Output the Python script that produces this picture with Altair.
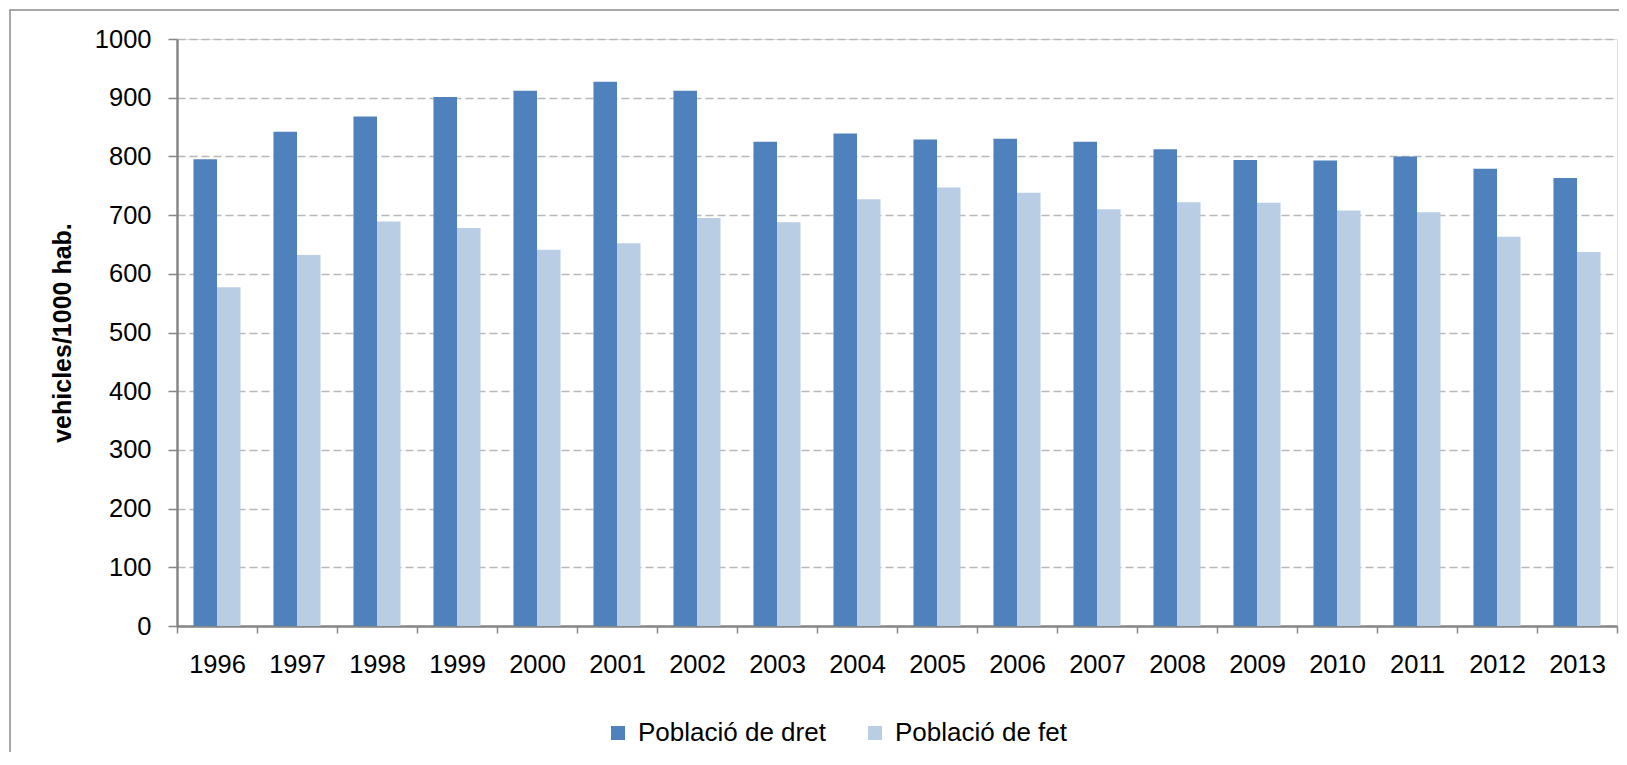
import altair as alt
import pandas as pd

years = [str(y) for y in range(1996, 2014)]
dret = [795, 842, 868, 901, 912, 927, 912, 825, 839, 829, 830, 825, 812, 794, 793, 800, 779, 763]
fet = [577, 632, 689, 678, 641, 652, 695, 688, 727, 747, 738, 710, 722, 721, 708, 705, 663, 637]
series = ["Població de dret", "Població de fet"]
colors = ["#4F81BD", "#B9CDE5"]
y_ticks = list(range(0, 1001, 100))

rows = []
for i, yr in enumerate(years):
    rows.append({"year": yr, "serie": series[0], "value": dret[i]})
    rows.append({"year": yr, "serie": series[1], "value": fet[i]})
df = pd.DataFrame(rows)

W, H = 1440, 587
FONT = "Liberation Sans"

bars = alt.Chart(df).mark_bar().encode(
    x=alt.X("year:N", sort=years,
            scale=alt.Scale(paddingInner=0, paddingOuter=0),
            axis=alt.Axis(title=None, labelAngle=0, labelFontSize=25.5, labelColor="#000000",
                          labelFont=FONT, labelPadding=19,
                          tickBand="extent", tickSize=7, tickColor="#868686", tickWidth=1.5,
                          domainColor="#868686", domainWidth=2.5, grid=False)),
    xOffset=alt.XOffset("serie:N", sort=series,
                        scale=alt.Scale(paddingOuter=0.7, paddingInner=0)),
    y=alt.Y("value:Q",
            scale=alt.Scale(domain=[0, 1000], nice=False),
            axis=alt.Axis(title="vehicles/1000 hab.", values=y_ticks, format="d",
                          titleFont=FONT, titleFontSize=25, titleFontWeight="bold",
                          titleColor="#000000", titleX=-115, titleY=H / 2,
                          titleAngle=270, titleBaseline="middle", titleAlign="center",
                          labelFontSize=25.5, labelFont=FONT, labelColor="#000000",
                          labelPadding=17, tickSize=9, tickColor="#868686", tickWidth=1.5,
                          domainColor="#868686", domainWidth=2.5,
                          grid=True, gridColor="#b8b8b8", gridDash=[8, 4], gridWidth=1.3)),
    color=alt.Color("serie:N", sort=series,
                    scale=alt.Scale(domain=series, range=colors),
                    legend=alt.Legend(orient="none", legendX=428, legendY=681,
                                      direction="horizontal", title=None,
                                      symbolType="square", symbolSize=196,
                                      symbolStrokeWidth=0, symbolOpacity=1,
                                      labelFontSize=26, labelFont=FONT, labelColor="#000000",
                                      labelLimit=500, labelOffset=7, columnPadding=36,
                                      padding=0)),
)

border = alt.Chart(pd.DataFrame({"a": [0]})).mark_rect(
    fill=None, stroke="#8c8c8c", strokeWidth=1.5
).encode(
    x=alt.value(-167), x2=alt.value(W + 40),
    y=alt.value(-29), y2=alt.value(H + 300),
)

chart = alt.layer(border, bars).properties(
    width=W, height=H,
    autosize=alt.AutoSizeParams(type="none"),
    padding={"left": 169, "top": 31, "right": 2, "bottom": 126},
).configure_view(stroke=None).configure(background="white")

chart.save("out.html", embed_options={"renderer": "svg", "actions": False})
